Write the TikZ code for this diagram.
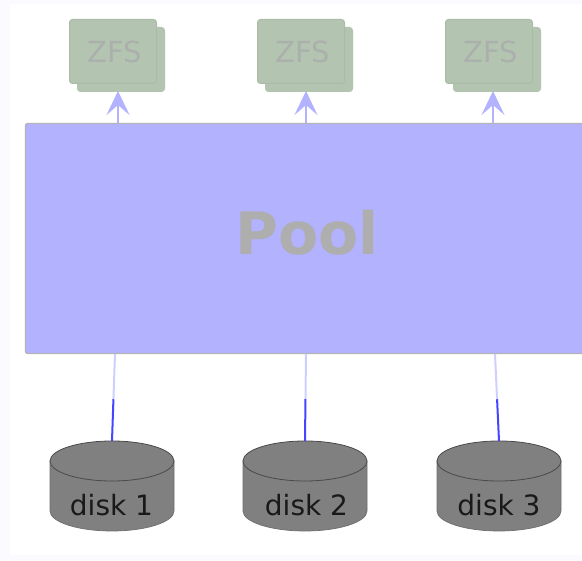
\documentclass[tikz,border=0pt]{standalone}
\usepackage{fontspec}
\setmainfont{DejaVu Sans}
\usetikzlibrary{arrows.meta,calc}
\definecolor{poolblue}{HTML}{B2B2FF}
\definecolor{zfsgreen}{HTML}{B3C4B0}
\definecolor{zfsedge}{HTML}{ABBBA8}
\definecolor{zfstext}{HTML}{ABB0AC}
\definecolor{fadetext}{HTML}{AEAEAE}
\definecolor{pooledge}{HTML}{B4B4B8}
\definecolor{diskgray}{HTML}{808080}
\definecolor{diskside}{HTML}{6E6E6E}
\definecolor{disktop}{HTML}{4A4A4A}
\definecolor{lightline}{HTML}{CFCFFF}
\definecolor{darkline}{HTML}{4545FF}
\definecolor{margintint}{HTML}{FBFBFF}
\tikzset{
  x=1pt,y=-1pt,
  zfsback/.style={draw=zfsgreen,fill=zfsgreen,rounded corners=3pt,line width=1pt,minimum width=87pt,minimum height=64pt,inner sep=0pt},
  zfsfront/.style={draw=zfsedge,fill=zfsgreen,rounded corners=3pt,line width=1pt,minimum width=87pt,minimum height=64pt,inner sep=0pt,text=zfstext,font=\fontsize{29pt}{30pt}\selectfont},
  poolbox/.style={draw=pooledge,fill=poolblue,rounded corners=1.5pt,line width=1.4pt,minimum width=562pt,minimum height=230pt,inner sep=0pt,text=fadetext,font=\fontsize{58.5pt}{60pt}\selectfont\bfseries},
  diskbody/.style={draw=diskside,fill=diskgray,line width=.7pt},
  disklid/.style={draw=disktop,fill=diskgray,line width=.8pt},
  disknode/.style={inner sep=0pt,text=black!90,font=\fontsize{28pt}{30pt}\selectfont},
  uparrow/.style={poolblue,line width=2.2pt,-{Stealth[inset=10pt,length=24pt,width=23pt]}},
  upperlink/.style={lightline,line width=2pt},
  lowerlink/.style={darkline,line width=2pt}
}
\begin{document}
\begin{tikzpicture}
\useasboundingbox (0,0) rectangle (582,561);
\clip (0,0) rectangle (582,561);
\fill[margintint] (0,0) rectangle (582,561);
\fill[white] (10,4) rectangle (582,555);

\node[poolbox] (pool) at (306.5,238.5) {\hspace*{1pt}\raisebox{12pt}{Pool}};

\foreach \n/\zx/\ax/\tx/\dx/\lx in {1/113/118/115/112/111.5,2/301/306/306/305/306.5,3/489/493/495/499/499}{
  \node[zfsback] (zb\n) at (\zx+8,59.5) {};
  \node[zfsfront] (zf\n) at (\zx,51.5) {\hspace*{4pt}ZFS};
  \coordinate (pa\n) at (\ax,123);
  \coordinate (za\n) at (\ax,91);
  \draw[uparrow] (pa\n) -- (za\n);
  \draw[diskbody] (\dx-62,461) -- (\dx-62,511) arc[start angle=180,end angle=360,x radius=62pt,y radius=20pt] -- (\dx+62,461) -- cycle;
  \draw[disklid] (\dx,461) ellipse[x radius=62pt,y radius=20pt];
  \node[disknode] (d\n) at (\lx,505) {disk \n};
  \coordinate (pb\n) at (\tx,354);
  \coordinate (mid\n) at ($(\tx,354)!0.52!(\dx,441)$);
  \coordinate (dt\n) at (\dx,441);
  \draw[upperlink] (pb\n) -- (mid\n);
  \draw[lowerlink] (mid\n) -- (dt\n);
}
\end{tikzpicture}
\end{document}
